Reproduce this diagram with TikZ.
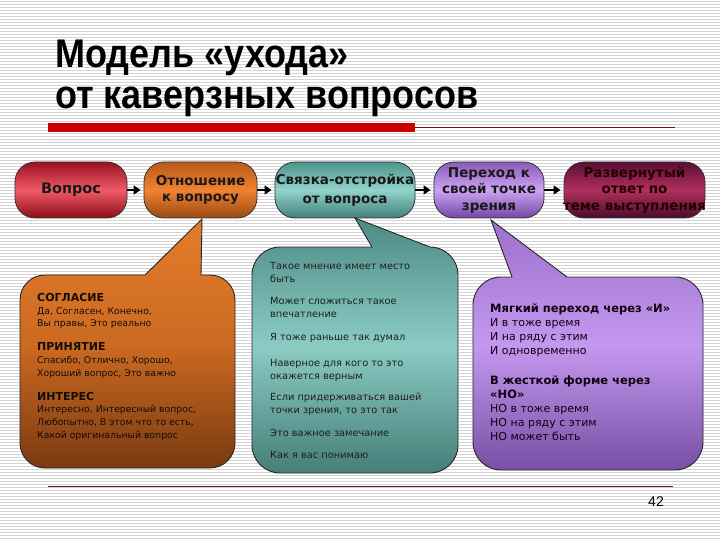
\documentclass[tikz,border=0pt]{standalone}
\usepackage{fontspec}
\setmainfont{DejaVu Sans}
\newfontfamily\titlefont[FakeStretch=0.9]{Liberation Sans}
\newfontfamily\numfont{Liberation Sans}
\usetikzlibrary{arrows.meta}
\definecolor{stripecol}{HTML}{D4D4D4}
\definecolor{redbar}{HTML}{CC0000}
\definecolor{darkredline}{HTML}{7A1010}
\definecolor{qtop}{HTML}{9A1020}\definecolor{qmid}{HTML}{F05A68}\definecolor{qbot}{HTML}{8A0E18}
\definecolor{otop}{HTML}{B85A18}\definecolor{omid}{HTML}{F08232}\definecolor{obot}{HTML}{9A4A12}
\definecolor{ttop}{HTML}{4E948C}\definecolor{tmid}{HTML}{92D4CC}\definecolor{tbot}{HTML}{3F8078}
\definecolor{ptop}{HTML}{8A5AB8}\definecolor{pmid}{HTML}{CCA4F2}\definecolor{pbot}{HTML}{7446A6}
\definecolor{rtop}{HTML}{5A0E36}\definecolor{rmid}{HTML}{B0305E}\definecolor{rbot}{HTML}{4A0C2C}
\definecolor{cotop}{HTML}{E47C2A}\definecolor{comid}{HTML}{CC6A22}\definecolor{cobot}{HTML}{7A3A12}
\definecolor{cttop}{HTML}{4C8A84}\definecolor{ctmid}{HTML}{8ACCC4}\definecolor{ctbot}{HTML}{467E78}
\definecolor{cptop}{HTML}{9C70CC}\definecolor{cpmid}{HTML}{C498EE}\definecolor{cpbot}{HTML}{7650A6}
\begin{document}
\begin{tikzpicture}[x=1pt,y=-1pt,
  stripe/.style={stripecol, line width=1pt},
  box/.style={draw=black!80, line width=0.8pt, rounded corners=20pt, minimum height=56pt, inner sep=0pt},
  boxtxt/.style={font=\bfseries\fontsize{13.5}{16.5}\selectfont, align=center, text=black!90, inner sep=0pt},
  arr/.style={line width=1.6pt, -{Triangle[length=7pt,width=9pt]}, shorten >=3pt},
  callout/.style={draw=black!85, line width=0.9pt},
  titletxt/.style={anchor=base west, inner sep=0pt, font=\titlefont\bfseries\fontsize{40}{42}\selectfont},
  ctxt/.style={anchor=north west, inner sep=0pt, align=left}
]
\useasboundingbox (0,0) rectangle (720,540);
\fill[white] (0,0) rectangle (720,540);
\foreach \k in {0,...,179} \draw[stripe] (0,1.5+3*\k) -- (720,1.5+3*\k);

% title
\node[titletxt] (t1) at (55,68) {Модель «ухода»};
\node[titletxt] (t2) at (55,109) {от каверзных вопросов};
\fill[redbar] (48,123) rectangle (415,132);
\draw[darkredline, line width=1pt] (415,128) -- (675,128);
\draw[darkredline, line width=1pt] (48,486) -- (673,486);
\node[font=\numfont\fontsize{14}{16}\selectfont, inner sep=0pt] (num) at (656,502) {42};

% boxes
\node[box, minimum width=112pt, top color=qtop, bottom color=qbot, middle color=qmid] (q1) at (71,190) {};
\node[box, minimum width=113pt, top color=otop, bottom color=obot, middle color=omid] (q2) at (200.5,190) {};
\node[box, minimum width=140pt, top color=ttop, bottom color=tbot, middle color=tmid] (q3) at (345,190) {};
\node[box, minimum width=110pt, top color=ptop, bottom color=pbot, middle color=pmid] (q4) at (489,190) {};
\node[box, minimum width=141pt, top color=rtop, bottom color=rbot, middle color=rmid] (q5) at (634.5,190) {};

\node[boxtxt, font=\bfseries\fontsize{14.5}{17}\selectfont] (l1) at (q1) {Вопрос};
\node[boxtxt] (l2) at (q2) {Отношение\\к вопросу};
\node[boxtxt, font=\bfseries\fontsize{13.5}{19}\selectfont] (l3) at (q3) {Связка-отстройка\\от вопроса};
\node[boxtxt] (l4) at (q4) {Переход к\\своей точке\\зрения};
\node[boxtxt, text=black!85!red] (l5) at (q5) {Развернутый\\ответ по\\теме выступления};

\draw[arr] (q1) -- (q2);
\draw[arr] (q2) -- (q3);
\draw[arr] (q3) -- (q4);
\draw[arr] (q4) -- (q5);

% callouts
\path[callout, top color=cotop, bottom color=cobot, middle color=comid]
  (20,300) arc[start angle=180,end angle=270,radius=25] -- (145,275) -- (202,219) -- (201,275) -- (210,275)
  arc[start angle=270,end angle=360,radius=25] -- (235,443)
  arc[start angle=0,end angle=90,radius=25] -- (45,468)
  arc[start angle=90,end angle=180,radius=25] -- cycle;
\path[callout, top color=cttop, bottom color=ctbot, middle color=ctmid]
  (252,275) arc[start angle=180,end angle=270,radius=28] -- (372,247) -- (355,218) -- (430,247)
  arc[start angle=270,end angle=360,radius=28] -- (458,445)
  arc[start angle=0,end angle=90,radius=28] -- (280,473)
  arc[start angle=90,end angle=180,radius=28] -- cycle;
\path[callout, top color=cptop, bottom color=cpbot, middle color=cpmid]
  (473,305) arc[start angle=180,end angle=270,radius=28] -- (512,277) -- (491,220) -- (567,277) -- (675,277)
  arc[start angle=270,end angle=360,radius=28] -- (703,442)
  arc[start angle=0,end angle=90,radius=28] -- (501,470)
  arc[start angle=90,end angle=180,radius=28] -- cycle;

% callout texts
\node[ctxt, text=black!90!brown, font=\fontsize{9.3}{12.8}\selectfont] (c1) at (37,293) {%
{\bfseries\fontsize{11}{12.8}\selectfont СОГЛАСИЕ}\\
Да, Согласен, Конечно,\\
Вы правы, Это реально\\[11pt]
{\bfseries\fontsize{11}{12.8}\selectfont ПРИНЯТИЕ}\\
Спасибо, Отлично, Хорошо,\\
Хороший вопрос, Это важно\\[11pt]
{\bfseries\fontsize{11}{12.8}\selectfont ИНТЕРЕС}\\
Интересно, Интересный вопрос,\\
Любопытно, В этом что то есть,\\
Какой оригинальный вопрос};

\node[ctxt, text=black!88, font=\fontsize{9.8}{13}\selectfont] (c2) at (270,262) {%
Такое мнение имеет место\\
быть\\[9.5pt]
Может сложиться такое\\
впечатление\\[9.5pt]
Я тоже раньше так думал\\[13pt]
Наверное для кого то это\\
окажется верным\\[8pt]
Если придерживаться вашей\\
точки зрения, то это так\\[10pt]
Это важное замечание\\[9pt]
Как я вас понимаю};

\node[ctxt, text=black!85!violet, font=\fontsize{11}{14}\selectfont] (c3) at (490,304) {%
{\bfseries\fontsize{11.5}{14}\selectfont Мягкий переход через «И»}\\
И в тоже время\\
И на ряду с этим\\
И одновременно\\[16pt]
{\bfseries\fontsize{11.5}{14}\selectfont В жесткой форме через}\\
{\bfseries\fontsize{11.5}{14}\selectfont «НО»}\\
НО в тоже время\\
НО на ряду с этим\\
НО может быть};
\end{tikzpicture}
\end{document}
